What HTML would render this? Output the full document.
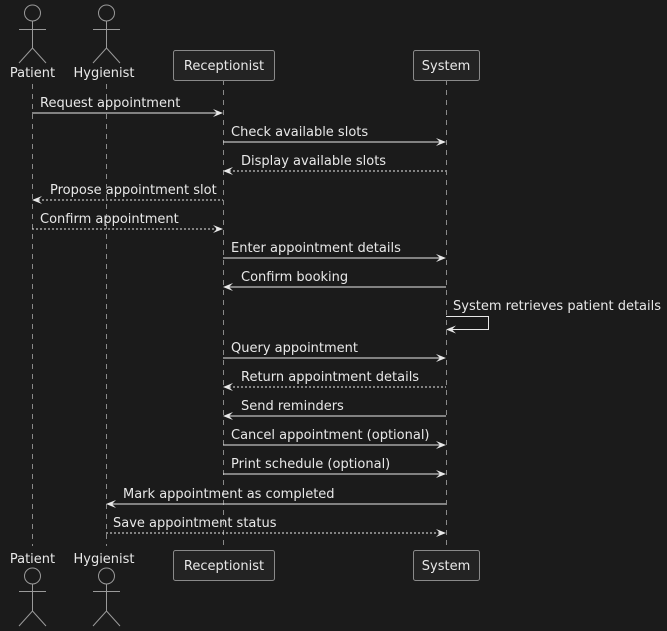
<!DOCTYPE html>
<html><head><meta charset="utf-8"><style>
html,body{margin:0;padding:0;background:#1b1b1b;}
svg{display:block;}
text{font-family:"DejaVu Sans","Liberation Sans",sans-serif;font-size:13px;fill:#e8e8e8;}
</style></head><body>
<svg width="667" height="631" viewBox="0 0 667 631" xmlns="http://www.w3.org/2000/svg">
<rect width="667" height="631" fill="#1b1b1b"/>
<g stroke="#8a8a8a" stroke-width="1" stroke-dasharray="5,5" fill="none">
<line x1="32.5" y1="84" x2="32.5" y2="546"/>
<line x1="106.5" y1="84" x2="106.5" y2="546"/>
<line x1="223.5" y1="80" x2="223.5" y2="550"/>
<line x1="446.5" y1="80" x2="446.5" y2="550"/>
</g>
<g stroke="#9a9a9a" stroke-width="1" fill="none">
<circle cx="32.5" cy="13" r="8"/><line x1="32.5" y1="21" x2="32.5" y2="48"/><line x1="19" y1="29.5" x2="46" y2="29.5"/><polyline points="19,63 32.5,48 46,63"/>
<circle cx="106.5" cy="13" r="8"/><line x1="106.5" y1="21" x2="106.5" y2="48"/><line x1="93" y1="29.5" x2="120" y2="29.5"/><polyline points="93,63 106.5,48 120,63"/>
<circle cx="32.5" cy="576" r="8"/><line x1="32.5" y1="584" x2="32.5" y2="611"/><line x1="19" y1="591.5" x2="46" y2="591.5"/><polyline points="19,626 32.5,611 46,626"/>
<circle cx="106.5" cy="576" r="8"/><line x1="106.5" y1="584" x2="106.5" y2="611"/><line x1="93" y1="591.5" x2="120" y2="591.5"/><polyline points="93,626 106.5,611 120,626"/>
</g>
<g stroke="#8a8a8a" fill="#232323">
<rect x="173.5" y="50.5" width="101" height="30" rx="2"/>
<rect x="413.5" y="50.5" width="66" height="30" rx="2"/>
<rect x="173.5" y="550.5" width="101" height="30" rx="2"/>
<rect x="413.5" y="550.5" width="66" height="30" rx="2"/>
</g>
<text x="32.5" y="77" text-anchor="middle" font-size="14">Patient</text>
<text x="104" y="77" text-anchor="middle" font-size="14">Hygienist</text>
<text x="224" y="70" text-anchor="middle" font-size="14">Receptionist</text>
<text x="446" y="70" text-anchor="middle" font-size="14">System</text>
<text x="32.5" y="563" text-anchor="middle" font-size="14">Patient</text>
<text x="104" y="563" text-anchor="middle" font-size="14">Hygienist</text>
<text x="224" y="570" text-anchor="middle" font-size="14">Receptionist</text>
<text x="446" y="570" text-anchor="middle" font-size="14">System</text>
<g stroke="#e8e8e8" stroke-width="1" fill="none">
<line x1="32" y1="113" x2="221" y2="113"/>
<line x1="223" y1="142" x2="444" y2="142"/>
<line x1="225" y1="171" x2="446" y2="171" stroke-dasharray="2,2"/>
<line x1="34" y1="200" x2="223" y2="200" stroke-dasharray="2,2"/>
<line x1="32" y1="229" x2="221" y2="229" stroke-dasharray="2,2"/>
<line x1="223" y1="258" x2="444" y2="258"/>
<line x1="225" y1="287" x2="446" y2="287"/>
<polyline points="446,316.5 488.5,316.5 488.5,329.5 448,329.5"/>
<line x1="223" y1="358" x2="444" y2="358"/>
<line x1="225" y1="387" x2="446" y2="387" stroke-dasharray="2,2"/>
<line x1="225" y1="416" x2="446" y2="416"/>
<line x1="223" y1="445" x2="444" y2="445"/>
<line x1="223" y1="474" x2="444" y2="474"/>
<line x1="108" y1="504" x2="446" y2="504"/>
<line x1="106" y1="533" x2="444" y2="533" stroke-dasharray="2,2"/>
</g>
<g fill="#e8e8e8">
<polygon points="223,113 213,109 217,113 213,117"/>
<polygon points="446,142 436,138 440,142 436,146"/>
<polygon points="223,171 233,167 229,171 233,175"/>
<polygon points="32,200 42,196 38,200 42,204"/>
<polygon points="223,229 213,225 217,229 213,233"/>
<polygon points="446,258 436,254 440,258 436,262"/>
<polygon points="223,287 233,283 229,287 233,291"/>
<polygon points="446,329.5 456,325.5 452,329.5 456,333.5"/>
<polygon points="446,358 436,354 440,358 436,362"/>
<polygon points="223,387 233,383 229,387 233,391"/>
<polygon points="223,416 233,412 229,416 233,420"/>
<polygon points="446,445 436,441 440,445 436,449"/>
<polygon points="446,474 436,470 440,474 436,478"/>
<polygon points="106,504 116,500 112,504 116,508"/>
<polygon points="446,533 436,529 440,533 436,537"/>
</g>
<text x="40" y="107">Request appointment</text>
<text x="231" y="136">Check available slots</text>
<text x="241" y="165">Display available slots</text>
<text x="50" y="194">Propose appointment slot</text>
<text x="40" y="223">Confirm appointment</text>
<text x="231" y="252">Enter appointment details</text>
<text x="241" y="281">Confirm booking</text>
<text x="453" y="310">System retrieves patient details</text>
<text x="231" y="352">Query appointment</text>
<text x="241" y="381">Return appointment details</text>
<text x="241" y="410">Send reminders</text>
<text x="231" y="439">Cancel appointment (optional)</text>
<text x="231" y="468">Print schedule (optional)</text>
<text x="123" y="498">Mark appointment as completed</text>
<text x="113" y="527">Save appointment status</text>
</svg>
</body></html>
